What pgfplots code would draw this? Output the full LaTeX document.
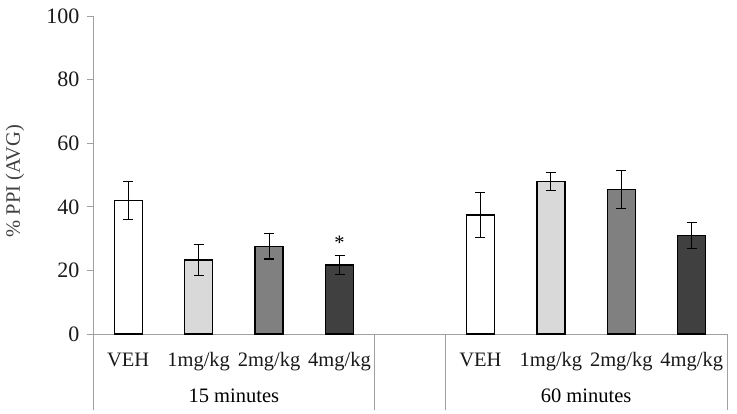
\documentclass[border=0pt]{standalone}
\usepackage{fontspec}
\setmainfont{Liberation Serif}
\usepackage{pgfplots}
\pgfplotsset{compat=1.18}
\definecolor{axisgray}{HTML}{A0A0A0}
\definecolor{lightbar}{HTML}{D9D9D9}
\definecolor{midbar}{HTML}{808080}
\definecolor{darkbar}{HTML}{404040}
\newcommand\chartfont{\fontsize{20.5}{24}\selectfont}
\newcommand\tickfont{\fontsize{22}{26}\selectfont}
\pgfplotsset{errb/.style={draw=black, line width=1.3pt,
    error bars/y dir=both, error bars/y explicit,
    error bars/error bar style={black, line width=1.2pt},
    error bars/error mark options={rotate=90, mark size=5pt, black, line width=1.2pt}}}
\begin{document}
\begin{tikzpicture}
\begin{axis}[
  scale only axis, width=634pt, height=318pt,
  xmin=-0.5, xmax=8.5, ymin=0, ymax=100,
  axis lines*=left,
  axis line style={axisgray, line width=0.8pt},
  ytick={0,20,...,100},
  xtick={0,1,2,3,5,6,7,8},
  xticklabels={VEH,1mg/kg,2mg/kg,4mg/kg,VEH,1mg/kg,2mg/kg,4mg/kg},
  x tick style={draw=none},
  y tick style={axisgray, line width=0.8pt},
  tick align=outside, major tick length=6pt,
  font=\chartfont,
  /pgf/number format/assume math mode=true,
  yticklabel style={font=\tickfont, text=black!90, xshift=-4pt},
  xticklabel style={font=\chartfont, anchor=base, yshift=-27pt, text=black!90},
  ylabel={\% PPI (AVG)},
  ylabel style={font=\chartfont, text=darkbar, at={(axis description cs:-0.123,0.48)}, anchor=center},
  ybar, bar width=28pt, bar shift=0pt,
  clip=false,
]
\addplot[errb, fill=white] coordinates {(0,42.0) +- (0,5.9) (5,37.4) +- (0,7.0)};
\addplot[errb, fill=lightbar] coordinates {(1,23.3) +- (0,4.9) (6,47.9) +- (0,2.9)};
\addplot[errb, fill=midbar] coordinates {(2,27.6) +- (0,4.0) (7,45.4) +- (0,6.0)};
\addplot[errb, fill=darkbar] coordinates {(3,21.7) +- (0,3.0) (8,31.0) +- (0,4.0)};
\node[font=\chartfont, anchor=base] at (axis cs:3,26.7) {*};
\node[font=\chartfont, anchor=base] at (axis cs:1.5,0) [yshift=-69pt] {15 minutes};
\node[font=\chartfont, anchor=base] at (axis cs:6.5,0) [yshift=-69pt] {60 minutes};
\draw[axisgray, line width=0.8pt] (axis cs:-0.5,0) -- ++(0pt,-76pt);
\draw[axisgray, line width=0.8pt] (axis cs:3.5,0) -- ++(0pt,-76pt);
\draw[axisgray, line width=0.8pt] (axis cs:4.5,0) -- ++(0pt,-76pt);
\draw[axisgray, line width=0.8pt] (axis cs:8.5,0) -- ++(0pt,-76pt);
\end{axis}
\pgfresetboundingbox
\path[use as bounding box] (-93pt,-80pt) rectangle (644pt,334pt);
\end{tikzpicture}
\end{document}
